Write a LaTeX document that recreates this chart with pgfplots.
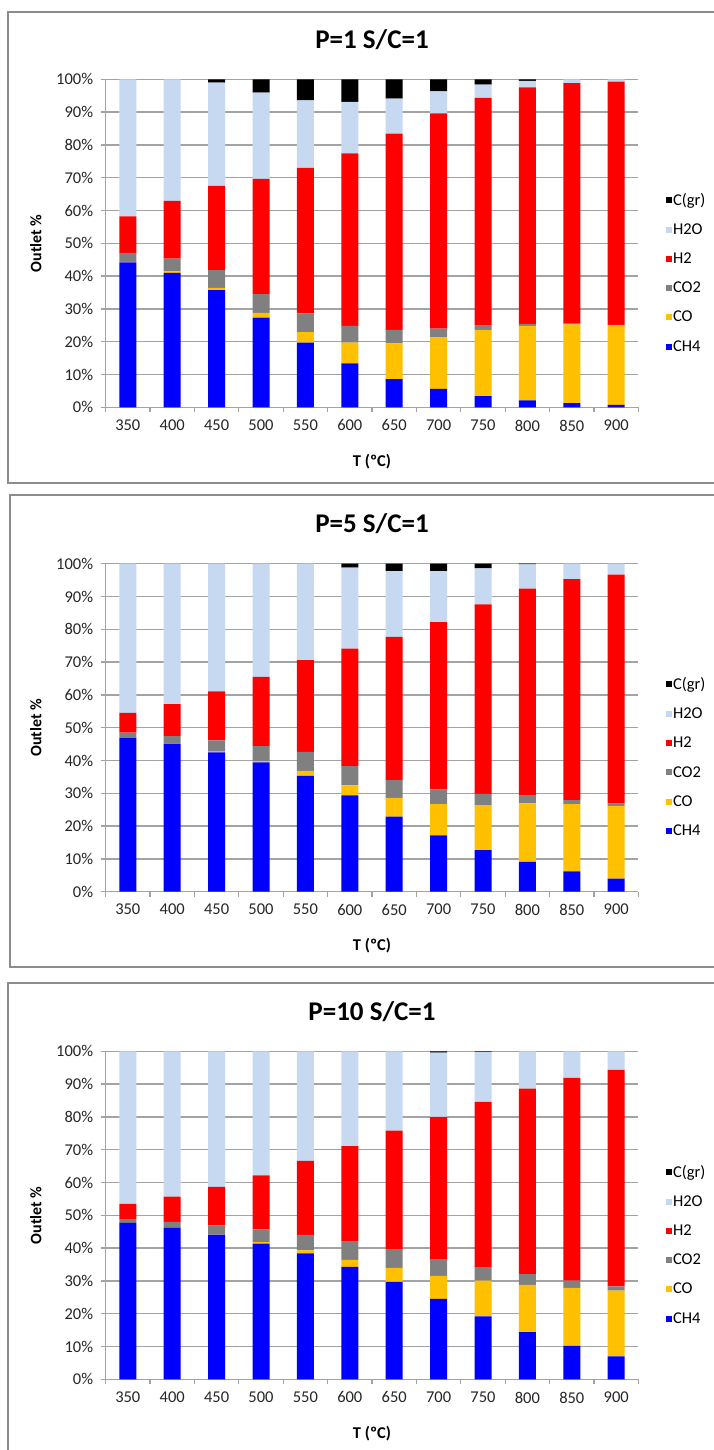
\documentclass[border=0pt]{standalone}
\usepackage{pgfplots}
\pgfplotsset{compat=1.18}
\usepackage{pgfplotstable}
\usepackage{fontspec}
\setmainfont{Carlito}
\definecolor{cCH4}{HTML}{0000FF}
\definecolor{cCO}{HTML}{FFC000}
\definecolor{cCOtwo}{HTML}{808080}
\definecolor{cHtwo}{HTML}{FF0000}
\definecolor{cHtwoO}{HTML}{C6D9F1}
\definecolor{cC}{HTML}{000000}
\definecolor{gridc}{HTML}{A3A3A3}
\definecolor{framec}{HTML}{8C8C8C}

\pgfplotstableread{
X CH4 CO CO2 H2 H2O C
0 44.2 0.1 2.8 11.1 41.8 0
1 41.0 0.4 3.9 17.6 37.1 0
2 35.7 0.7 5.4 25.7 31.5 1.0
3 27.3 1.5 5.7 35.1 26.3 4.1
4 19.7 3.2 5.7 44.4 20.6 6.4
5 13.4 6.3 5.1 52.6 15.7 6.9
6 8.6 10.9 4.1 59.8 10.7 5.9
7 5.6 15.8 2.6 65.6 6.7 3.7
8 3.4 20.2 1.3 69.4 4.1 1.6
9 2.1 22.7 0.6 72.1 2.0 0.5
10 1.3 24.0 0.2 73.3 1.2 0
11 0.7 24.3 0.1 74.2 0.7 0
}\tabA

\pgfplotstableread{
X CH4 CO CO2 H2 H2O C
0 46.8 0.0 1.7 6.0 45.5 0
1 45.0 0.05 2.4 9.7 42.85 0
2 42.5 0.2 3.4 15.0 38.9 0
3 39.4 0.4 4.6 21.1 34.5 0
4 35.3 1.5 5.8 28.0 29.4 0
5 29.4 3.0 5.9 35.8 24.7 1.2
6 22.9 5.7 5.4 43.7 20.0 2.3
7 17.2 9.5 4.5 51.0 15.5 2.3
8 12.7 13.7 3.4 57.8 11.0 1.4
9 9.1 17.8 2.4 63.1 7.4 0.2
10 6.2 20.5 1.2 67.4 4.7 0
11 4.0 22.2 0.7 69.8 3.3 0
}\tabB

\pgfplotstableread{
X CH4 CO CO2 H2 H2O C
0 47.7 0.0 1.1 4.7 46.5 0
1 46.2 0.0 1.8 7.7 44.3 0
2 44.1 0.05 2.8 11.7 41.35 0
3 41.4 0.4 3.9 16.5 37.8 0
4 38.4 0.9 4.7 22.6 33.4 0
5 34.3 2.1 5.7 29.0 28.9 0
6 29.7 4.3 5.7 36.1 24.2 0
7 24.5 7.0 5.1 43.4 19.6 0.4
8 19.2 10.9 4.1 50.4 15.2 0.2
9 14.4 14.4 3.3 56.5 11.4 0
10 10.2 17.7 2.2 61.8 8.1 0
11 7.0 20.0 1.3 66.0 5.7 0
}\tabC

\pgfplotsset{panel/.style={
  scale only axis, width=532.8pt, height=328pt,
  xmin=-0.5, xmax=11.5, ymin=0, ymax=100,
  ybar stacked, bar width=17pt,
  axis lines*=left,
  axis line style={gridc, line width=1.3pt},
  ymajorgrids, grid style={gridc, line width=1.3pt},
  tick align=outside,
  xtick={0,...,11},
  xticklabels={350,400,450,500,550,600,650,700,750,800,850,900},
  minor xtick={-0.5,0.5,...,11.5},
  major x tick style={draw=none},
  minor tick length=5pt, major tick length=5pt,
  tick style={gridc, line width=1.3pt},
  ytick={0,10,...,100},
  yticklabels={0\%,10\%,20\%,30\%,40\%,50\%,60\%,70\%,80\%,90\%,100\%},
  ticklabel style={font=\fontsize{16.5}{16.5}\selectfont, text=black!85},
  xticklabel style={yshift=-4pt},
  yticklabel style={xshift=-4pt},
  title style={font=\bfseries\fontsize{27}{27}\selectfont, at={(0.5,1)}, anchor=center, yshift=34pt},
  xlabel={T (ºC)},
  xlabel style={font=\bfseries\fontsize{16.5}{16.5}\selectfont, at={(axis description cs:0.5,0)}, anchor=center, yshift=-54pt},
  ylabel={Outlet \%},
  ylabel style={font=\bfseries\fontsize{16}{16}\selectfont, at={(axis description cs:-0.131,0.5)}, anchor=center},
  legend style={at={(1.045,0.41)}, anchor=west, draw=none, fill=none,
    font=\fontsize{16.5}{16.5}\selectfont, row sep=14pt,
    nodes={inner sep=1.5pt}},
  legend cell align=left,
  reverse legend,
  legend image code/.code={\fill[##1] (0pt,-3pt) rectangle (6pt,3pt);},
  every axis plot/.append style={draw=none},
}}

\newcommand{\stackplots}[1]{%
  \addplot+[fill=cCH4, draw=none] table[x=X, y=CH4] {#1};
  \addplot+[fill=cCO, draw=none] table[x=X, y=CO] {#1};
  \addplot+[fill=cCOtwo, draw=none] table[x=X, y=CO2] {#1};
  \addplot+[fill=cHtwo, draw=none] table[x=X, y=H2] {#1};
  \addplot+[fill=cHtwoO, draw=none] table[x=X, y=H2O] {#1};
  \addplot+[fill=cC, draw=none] table[x=X, y=C] {#1};
  \legend{CH4,CO,CO2,H2,H2O,C(gr)}
}

\begin{document}
\begin{tikzpicture}
\useasboundingbox (0,0) rectangle (714pt,1450pt);
\fill[white] (0,0) rectangle (714pt,1450pt);
\draw[framec, line width=1.5pt] (8pt,967pt) rectangle (730pt,1438pt);
\draw[framec, line width=1.5pt] (10pt,483pt) rectangle (730pt,955pt);
\draw[framec, line width=1.5pt] (8pt,-10pt) rectangle (730pt,467pt);

\begin{axis}[panel, at={(105.6pt,1042.7pt)}, anchor=south west, title={P=1 S/C=1}]
\stackplots{\tabA}
\end{axis}

\begin{axis}[panel, at={(105.6pt,558.3pt)}, anchor=south west, title={P=5 S/C=1}]
\stackplots{\tabB}
\end{axis}

\begin{axis}[panel, at={(105.6pt,70.7pt)}, anchor=south west, title={P=10 S/C=1}]
\stackplots{\tabC}
\end{axis}
\end{tikzpicture}
\end{document}
